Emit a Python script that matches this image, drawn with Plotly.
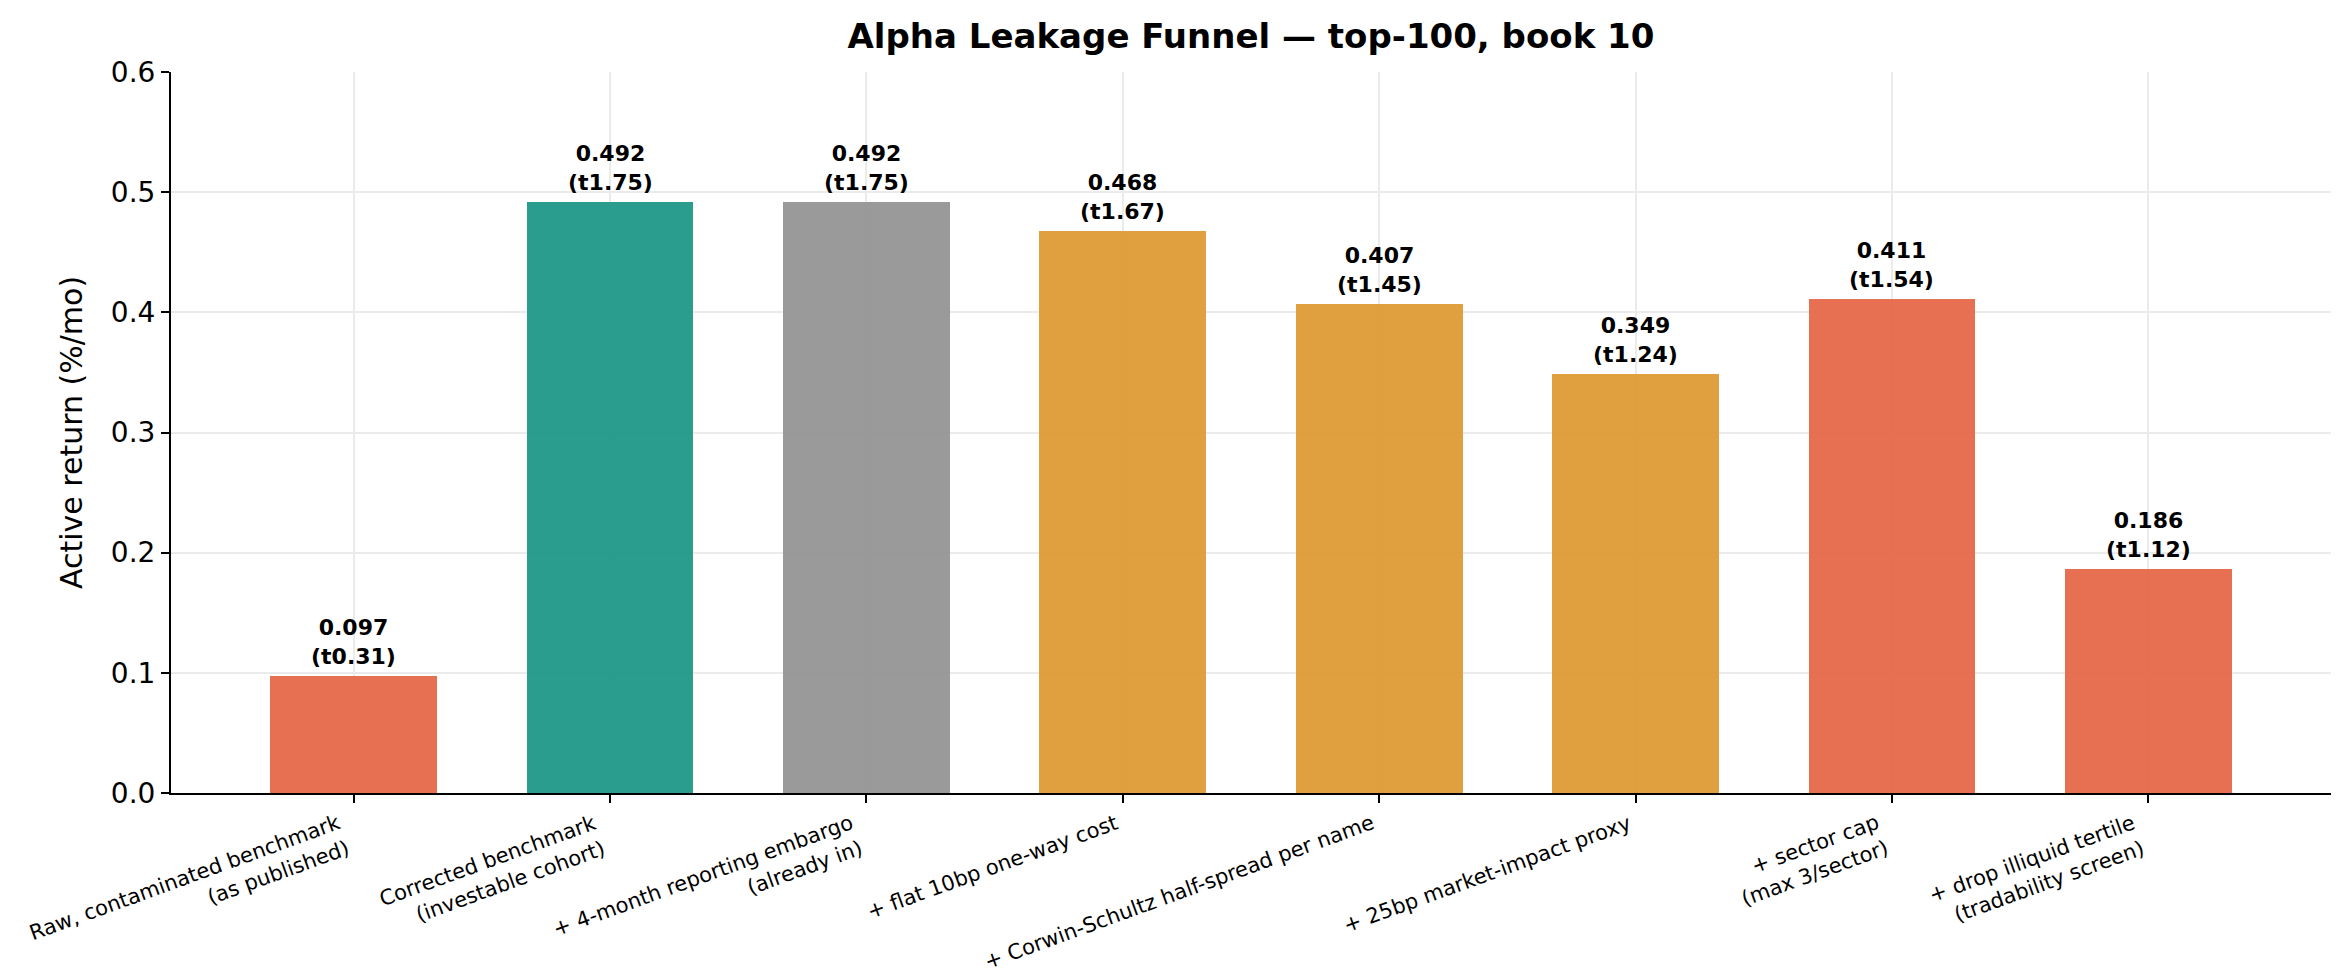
import plotly.graph_objects as go

## funnel steps, values
steps = [
    "Raw, contaminated benchmark<br>(as published)",
    "Corrected benchmark<br>(investable cohort)",
    "+ 4-month reporting embargo<br>(already in)",
    "+ flat 10bp one-way cost",
    "+ Corwin-Schultz half-spread per name",
    "+ 25bp market-impact proxy",
    "+ sector cap<br>(max 3/sector)",
    "+ drop illiquid tertile<br>(tradability screen)",
]
active_ret = [0.097, 0.492, 0.492, 0.468, 0.407, 0.349, 0.411, 0.186]
t_stats = [0.31, 1.75, 1.75, 1.67, 1.45, 1.24, 1.54, 1.12]
## base colours; drawn at 0.93 opacity so the grid shows faintly through
bar_colors = ["#E56546", "#1A9687", "#929292", "#DE9930",
              "#DE9930", "#DE9930", "#E56546", "#E56546"]
yticks = [0.0, 0.1, 0.2, 0.3, 0.4, 0.5, 0.6]

xpos = list(range(len(steps)))
font = "DejaVu Sans"

fig = go.Figure()
fig.add_trace(go.Bar(x=xpos, y=active_ret, width=0.65,
                     marker=dict(color=bar_colors, line=dict(width=0)),
                     opacity=0.93, showlegend=False))

## value + t-stat labels above each bar
for x, v, t in zip(xpos, active_ret, t_stats):
    fig.add_annotation(x=x, y=v, text="<b>%.3f<br>(t%.2f)</b>" % (v, t),
                       showarrow=False, xanchor="center", yanchor="bottom",
                       yshift=5, font=dict(family=font, size=22, color="black"))

## rotated category labels, right edge of the rotated box on the tick (like ha='right')
for x, s in zip(xpos, steps):
    fig.add_annotation(x=x, y=0, text=s, textangle=-20, align="right",
                       showarrow=False, xanchor="right", yanchor="top",
                       xshift=0, yshift=-16, borderpad=0,
                       font=dict(family=font, size=21, color="black"))

fig.update_xaxes(tickvals=xpos, showticklabels=False,
                 range=[-0.7125, 7.7125], showgrid=True, gridcolor="#ebebeb", gridwidth=1.5,
                 showline=True, linecolor="black", linewidth=2,
                 ticks="outside", ticklen=8, tickwidth=2, tickcolor="black", zeroline=False)
fig.update_yaxes(title_text="Active return (%/mo)", title_standoff=19,
                 title_font=dict(family=font, size=30, color="black"),
                 range=[0, 0.6], tickvals=yticks, ticktext=["%.1f" % v for v in yticks],
                 showgrid=True, gridcolor="#ebebeb", gridwidth=1.5,
                 showline=True, linecolor="black", linewidth=2,
                 ticks="outside", ticklen=8, tickwidth=2, tickcolor="black",
                 tickfont=dict(family=font, size=28, color="black"), zeroline=False)
fig.update_layout(width=2346, height=972,
                  title=dict(text="<b>Alpha Leakage Funnel — top-100, book 10</b>",
                             x=1243 / 2346, xanchor="center",
                             y=0.971, yanchor="middle",
                             font=dict(family=font, size=34, color="black")),
                  margin=dict(l=163, r=23, t=64, b=187),
                  plot_bgcolor="white", paper_bgcolor="white", bargap=0)

fig.write_html("out.html")
